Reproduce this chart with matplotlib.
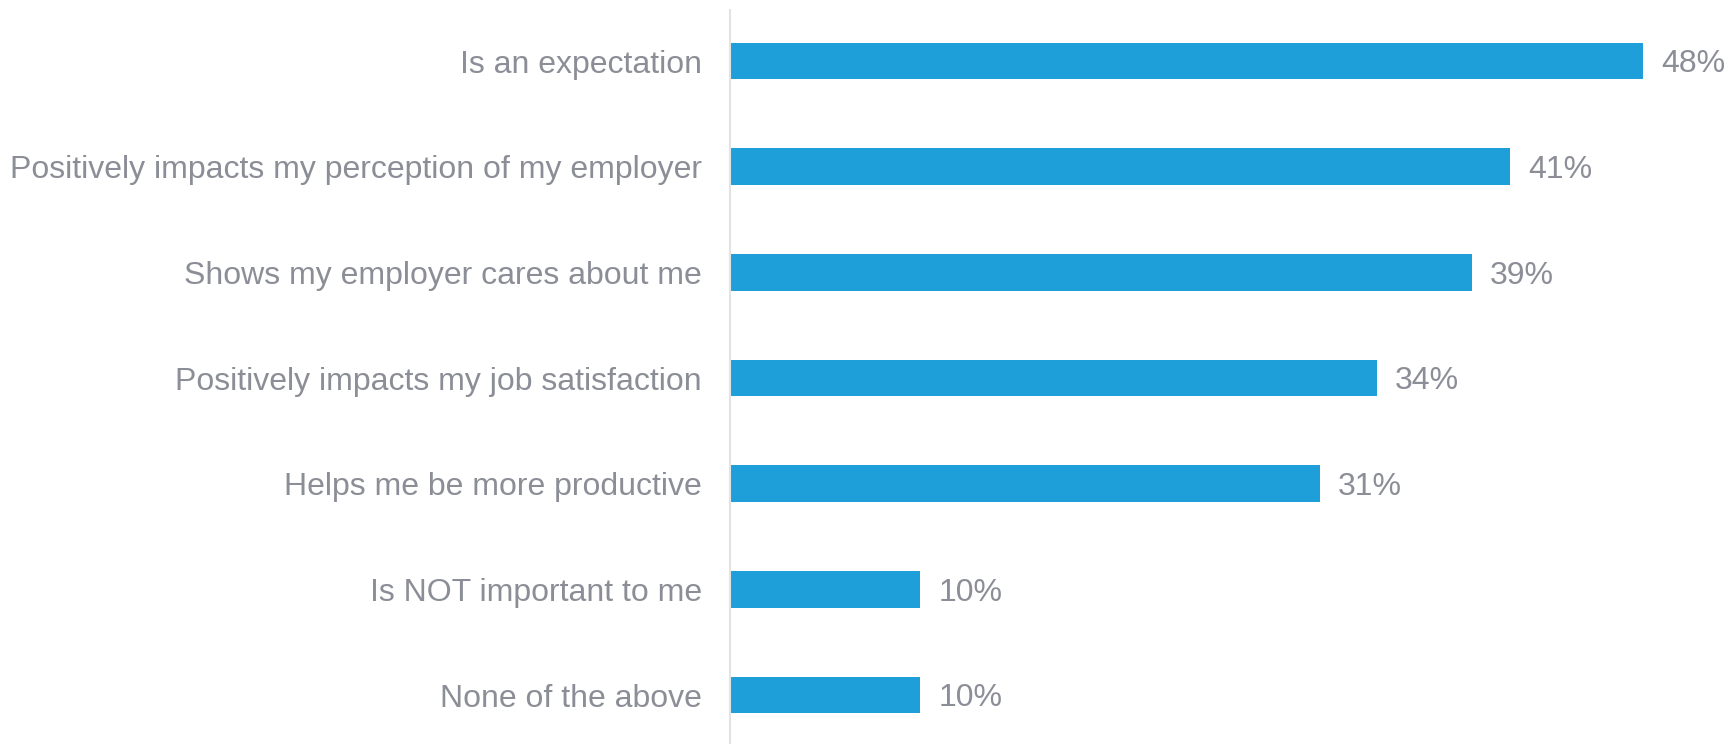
import matplotlib
matplotlib.use("Agg")
import matplotlib.pyplot as plt

categories = [
    "Is an expectation",
    "Positively impacts my perception of my employer",
    "Shows my employer cares about me",
    "Positively impacts my job satisfaction",
    "Helps me be more productive",
    "Is NOT important to me",
    "None of the above",
]
values = [48, 41, 39, 34, 31, 10, 10]

BAR_COLOR = "#1e9fda"
TEXT_COLOR = "#8c8e97"
AXIS_COLOR = "#e3e3e3"
FONT_SIZE = 23

plt.rcParams["font.family"] = ["Liberation Sans", "DejaVu Sans"]

W, H, DPI = 1726, 744, 100
fig = plt.figure(figsize=(W / DPI, H / DPI), dpi=DPI)
fig.patch.set_facecolor("white")

left_px = 730
ax = fig.add_axes([left_px / W, 0, 1 - left_px / W, 1])

pos = list(range(len(categories)))
ax.barh(pos, values, height=0.347, color=BAR_COLOR, edgecolor="none")

px_per_unit = 19.03
ax.set_xlim(0, (W - left_px) / px_per_unit)
spacing = 105.67
first_center = 61
ax.set_ylim((H - first_center) / spacing, -first_center / spacing)

# half the cap height in pixels, so digits sit centred on the bar
half_cap = FONT_SIZE * 0.716 * DPI / 72 / 2
for p, v in zip(pos, values):
    ax.annotate(f"{v}%", xy=(v, p), xytext=(18, -half_cap), textcoords="offset pixels",
                va="baseline", ha="left", fontsize=FONT_SIZE, color=TEXT_COLOR)

ax.set_yticks(pos)
ax.set_yticklabels(categories, fontsize=FONT_SIZE, color=TEXT_COLOR)
ax.tick_params(axis="y", length=0, pad=28 * 72 / DPI)
ax.set_xticks([])

for s in ["top", "right", "bottom"]:
    ax.spines[s].set_visible(False)
ax.spines["left"].set_color(AXIS_COLOR)
ax.spines["left"].set_linewidth(1.5)
ax.spines["left"].set_bounds(-(first_center - 10) / spacing, (H - first_center) / spacing)

fig.savefig("out.png", dpi=DPI, facecolor="white")
